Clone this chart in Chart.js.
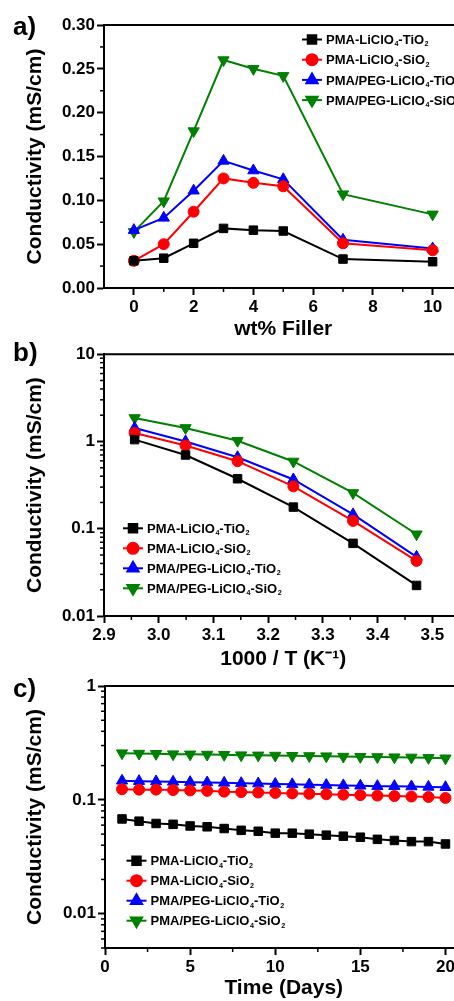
<!DOCTYPE html>
<html>
<head>
<meta charset="utf-8">
<script src="https://cdn.jsdelivr.net/npm/chart.js@4.4.1/dist/chart.umd.min.js"></script>
<style>
    html, body { margin: 0; padding: 0; background: #fff; overflow: hidden; width: 454px; height: 1001px; }
    canvas { position: absolute; left: 0; }
    #fillerChart { top: 0; }
    #arrheniusChart { top: 342px; }
    #stabilityChart { top: 673px; }
</style>
</head>
<body>
<canvas id="fillerChart" width="470" height="342"></canvas>
<canvas id="arrheniusChart" width="470" height="331"></canvas>
<canvas id="stabilityChart" width="470" height="328"></canvas>
<script>

const fontFamily = "'Liberation Sans', Arial, sans-serif";

const theme = {
    black: "#000000",
    red: "#FF0000",
    blue: "#0000FF",
    green: "#008000"
};

// series names (shared by all three panels)
const seriesNames = ["PMA-LiClO₄-TiO₂", "PMA-LiClO₄-SiO₂", "PMA/PEG-LiClO₄-TiO₂", "PMA/PEG-LiClO₄-SiO₂"];

// a) conductivity vs filler content
const fillerWt = [0, 1, 2, 3, 4, 5, 7, 10];
const fillerPmaTi = [0.031, 0.034, 0.051, 0.068, 0.066, 0.065, 0.033, 0.030];
const fillerPmaSi = [0.031, 0.050, 0.087, 0.125, 0.120, 0.116, 0.051, 0.043];
const fillerPegTi = [0.066, 0.080, 0.111, 0.145, 0.134, 0.124, 0.055, 0.045];
const fillerPegSi = [0.064, 0.099, 0.179, 0.260, 0.250, 0.242, 0.107, 0.084];
const fillerTicksX = [0, 2, 4, 6, 8, 10];
const fillerMinorX = [1, 3, 5, 7, 9];
const fillerTicksY = [0, 0.05, 0.10, 0.15, 0.20, 0.25, 0.30];
const fillerMinorY = [0.025, 0.075, 0.125, 0.175, 0.225, 0.275];

// b) conductivity vs 1000/T
const invTemp = [2.956, 3.049, 3.144, 3.246, 3.355, 3.471];
const tempPmaTi = [1.05, 0.70, 0.374, 0.177, 0.068, 0.0224];
const tempPmaSi = [1.25, 0.90, 0.594, 0.306, 0.123, 0.0428];
const tempPegTi = [1.43, 1.00, 0.66, 0.367, 0.146, 0.0476];
const tempPegSi = [1.86, 1.43, 1.02, 0.59, 0.257, 0.0865];
const tempTicksX = [2.9, 3.0, 3.1, 3.2, 3.3, 3.4, 3.5];
const tempMinorX = [2.95, 3.05, 3.15, 3.25, 3.35, 3.45, 3.55];
const tempTicksY = [0.01, 0.1, 1, 10];
const tempMinorY = [0.02, 0.03, 0.04, 0.05, 0.06, 0.07, 0.08, 0.09,
    0.2, 0.3, 0.4, 0.5, 0.6, 0.7, 0.8, 0.9,
    2, 3, 4, 5, 6, 7, 8, 9];

// c) conductivity vs time
const days = [1, 2, 3, 4, 5, 6, 7, 8, 9, 10, 11, 12, 13, 14, 15, 16, 17, 18, 19, 20];
const dayPmaTi = [0.068, 0.065, 0.062, 0.061, 0.059, 0.058, 0.056, 0.054, 0.053, 0.051, 0.051, 0.050, 0.049, 0.048, 0.047, 0.045, 0.044, 0.043, 0.043, 0.041];
const dayPmaSi = [0.124, 0.123, 0.123, 0.122, 0.121, 0.120, 0.118, 0.117, 0.116, 0.115, 0.114, 0.113, 0.112, 0.111, 0.110, 0.109, 0.108, 0.107, 0.106, 0.104];
const dayPegTi = [0.147, 0.146, 0.145, 0.144, 0.143, 0.142, 0.141, 0.140, 0.139, 0.138, 0.137, 0.136, 0.135, 0.134, 0.133, 0.132, 0.132, 0.131, 0.130, 0.129];
const dayPegSi = [0.257, 0.255, 0.254, 0.252, 0.251, 0.250, 0.249, 0.247, 0.246, 0.245, 0.244, 0.243, 0.242, 0.240, 0.239, 0.238, 0.237, 0.236, 0.234, 0.232];
const dayTicksX = [0, 5, 10, 15, 20];
const dayMinorX = [2.5, 7.5, 12.5, 17.5];
const dayTicksY = [0.01, 0.1, 1];
const dayMinorY = [0.005, 0.006, 0.007, 0.008, 0.009,
    0.02, 0.03, 0.04, 0.05, 0.06, 0.07, 0.08, 0.09,
    0.2, 0.3, 0.4, 0.5, 0.6, 0.7, 0.8, 0.9];


Chart.defaults.font.family = fontFamily;
Chart.defaults.font.weight = "bold";
Chart.defaults.color = "#000";
Chart.defaults.animation = false;

const markerStyles = [
    { color: theme.black, pointStyle: "rect", radius: 6, rotation: 0 },
    { color: theme.red, pointStyle: "circle", radius: 5.5, rotation: 0 },
    { color: theme.blue, pointStyle: "triangle", radius: 6.5, rotation: 0 },
    { color: theme.green, pointStyle: "triangle", radius: 6.5, rotation: 180 }
];

function makeDataset(index, xs, ys) {
    const m = markerStyles[index];
    return {
        label: seriesNames[index],
        data: xs.map((x, i) => ({ x: x, y: ys[i] })),
        borderColor: m.color,
        backgroundColor: m.color,
        borderWidth: 2,
        pointStyle: m.pointStyle,
        pointRadius: m.radius,
        pointRotation: m.rotation,
        pointBorderWidth: 1,
        tension: 0
    };
}

// text with subscript digits
const subDigits = { "₂": "2", "₄": "4" };

function drawRichLabel(ctx, text, x, y, size) {
    let cx = x;
    let run = "";
    const flush = () => {
        if (!run) return;
        ctx.font = `bold ${size}px ${fontFamily}`;
        ctx.fillText(run, cx, y);
        cx += ctx.measureText(run).width;
        run = "";
    };
    for (const ch of text) {
        if (subDigits[ch]) {
            flush();
            ctx.font = `bold ${size * 0.55}px ${fontFamily}`;
            ctx.fillText(subDigits[ch], cx + 0.5, y + size * 0.17);
            cx += ctx.measureText(subDigits[ch]).width + 0.5;
        } else {
            run += ch;
        }
    }
    flush();
}

// frame, minor ticks and panel letter
const framePlugin = {
    id: "framePlugin",
    afterDraw(chart, args, opts) {
        const { ctx, chartArea: a, scales } = chart;
        ctx.save();
        ctx.strokeStyle = "#000";
        ctx.lineWidth = 2;
        ctx.beginPath();
        ctx.moveTo(a.left - 1, a.top);
        ctx.lineTo(a.right, a.top);
        ctx.lineTo(a.right, a.bottom);
        ctx.stroke();

        ctx.lineWidth = 1.5;
        opts.minorX.forEach(v => {
            const px = scales.x.getPixelForValue(v);
            ctx.beginPath();
            ctx.moveTo(px, a.bottom);
            ctx.lineTo(px, a.bottom + 4);
            ctx.stroke();
        });
        opts.minorY.forEach(v => {
            const py = scales.y.getPixelForValue(v);
            ctx.beginPath();
            ctx.moveTo(a.left, py);
            ctx.lineTo(a.left - 4, py);
            ctx.stroke();
        });

        ctx.fillStyle = "#000";
        ctx.font = `bold 26px ${fontFamily}`;
        ctx.textBaseline = "alphabetic";
        ctx.fillText(opts.letter, 13, opts.letterY);
        ctx.restore();
    }
};

// legend drawn inside the plot
const insideLegend = {
    id: "insideLegend",
    afterDatasetsDraw(chart, args, opts) {
        const ctx = chart.ctx;
        chart.data.datasets.forEach((ds, i) => {
            const y = opts.y + i * opts.step;
            ctx.save();
            ctx.strokeStyle = ds.borderColor;
            ctx.lineWidth = 2;
            ctx.beginPath();
            ctx.moveTo(opts.x - 10, y);
            ctx.lineTo(opts.x + 10, y);
            ctx.stroke();
            ctx.fillStyle = ds.backgroundColor;
            Chart.helpers.drawPoint(ctx, {
                pointStyle: ds.pointStyle,
                rotation: ds.pointRotation,
                radius: ds.pointRadius,
                borderWidth: 1
            }, opts.x, y);
            ctx.fillStyle = "#000";
            ctx.textBaseline = "alphabetic";
            drawRichLabel(ctx, ds.label, opts.x + 14, y + 4.7, 13);
            ctx.restore();
        });
    }
};

function axis(type, min, max, tickValues, format, title, titlePad, fitSize) {
    return {
        type: type,
        min: min,
        max: max,
        afterBuildTicks: s => { s.ticks = tickValues.map(v => ({ value: v })); },
        afterFit: s => {
            if (s.isHorizontal()) s.height = fitSize; else s.width = fitSize;
        },
        ticks: {
            autoSkip: false,
            maxRotation: 0,
            padding: 2,
            font: { size: 17, weight: "bold" },
            color: "#000",
            callback: format
        },
        grid: {
            drawOnChartArea: false,
            drawTicks: true,
            tickLength: 7,
            tickWidth: 2,
            tickColor: "#000"
        },
        border: { display: true, width: 2, color: "#000" },
        title: {
            display: true,
            text: title,
            font: { size: 21, weight: "bold" },
            color: "#000",
            padding: titlePad
        }
    };
}


//Conductivity vs Filler (a)

new Chart(document.getElementById("fillerChart"), {
    type: "line",
    data: {
        datasets: [
            makeDataset(0, fillerWt, fillerPmaTi),
            makeDataset(1, fillerWt, fillerPmaSi),
            makeDataset(2, fillerWt, fillerPegTi),
            makeDataset(3, fillerWt, fillerPegSi)
        ]
    },
    options: {
        responsive: false,
        layout: { padding: { left: 0, right: 7, top: 25, bottom: 0 } },
        scales: {
            x: axis("linear", -1, 11, fillerTicksX, v => String(v), "wt% Filler", { top: 0, bottom: 0 }, 54),
            y: axis("linear", 0, 0.30, fillerTicksY, v => v.toFixed(2), "Conductivity (mS/cm)", { top: 23, bottom: 0 }, 104)
        },
        plugins: {
            legend: { display: false },
            tooltip: { enabled: false },
            framePlugin: { minorX: fillerMinorX, minorY: fillerMinorY, letter: "a)", letterY: 35 },
            insideLegend: { x: 312, y: 39.5, step: 20.2 }
        }
    },
    plugins: [framePlugin, insideLegend]
});


//Conductivity vs 1000/T (b)

new Chart(document.getElementById("arrheniusChart"), {
    type: "line",
    data: {
        datasets: [
            makeDataset(0, invTemp, tempPmaTi),
            makeDataset(1, invTemp, tempPmaSi),
            makeDataset(2, invTemp, tempPegTi),
            makeDataset(3, invTemp, tempPegSi)
        ]
    },
    options: {
        responsive: false,
        layout: { padding: { left: 0, right: 7, top: 11, bottom: 0 } },
        scales: {
            x: axis("linear", 2.9, 3.555, tempTicksX, v => v.toFixed(1), "1000 / T (K⁻¹)", { top: 0, bottom: 1 }, 57),
            y: axis("logarithmic", 0.01, 10, tempTicksY, v => String(v), "Conductivity (mS/cm)", { top: 23, bottom: 0 }, 104)
        },
        plugins: {
            legend: { display: false },
            tooltip: { enabled: false },
            framePlugin: { minorX: tempMinorX, minorY: tempMinorY, letter: "b)", letterY: 19 },
            insideLegend: { x: 133, y: 186.3, step: 20 }
        }
    },
    plugins: [framePlugin, insideLegend]
});


//Conductivity vs Time (c)

new Chart(document.getElementById("stabilityChart"), {
    type: "line",
    data: {
        datasets: [
            makeDataset(0, days, dayPmaTi),
            makeDataset(1, days, dayPmaSi),
            makeDataset(2, days, dayPegTi),
            makeDataset(3, days, dayPegSi)
        ]
    },
    options: {
        responsive: false,
        layout: { padding: { left: 0, right: 7, top: 13, bottom: 0 } },
        scales: {
            x: axis("linear", 0, 21, dayTicksX, v => String(v), "Time (Days)", { top: 0, bottom: 0 }, 53),
            y: axis("logarithmic", 0.005, 1, dayTicksY, v => String(v), "Conductivity (mS/cm)", { top: 23, bottom: 0 }, 105)
        },
        plugins: {
            legend: { display: false },
            tooltip: { enabled: false },
            framePlugin: { minorX: dayMinorX, minorY: dayMinorY, letter: "c)", letterY: 24 },
            insideLegend: { x: 136.5, y: 187.7, step: 20 }
        }
    },
    plugins: [framePlugin, insideLegend]
});

</script>
</body>
</html>
